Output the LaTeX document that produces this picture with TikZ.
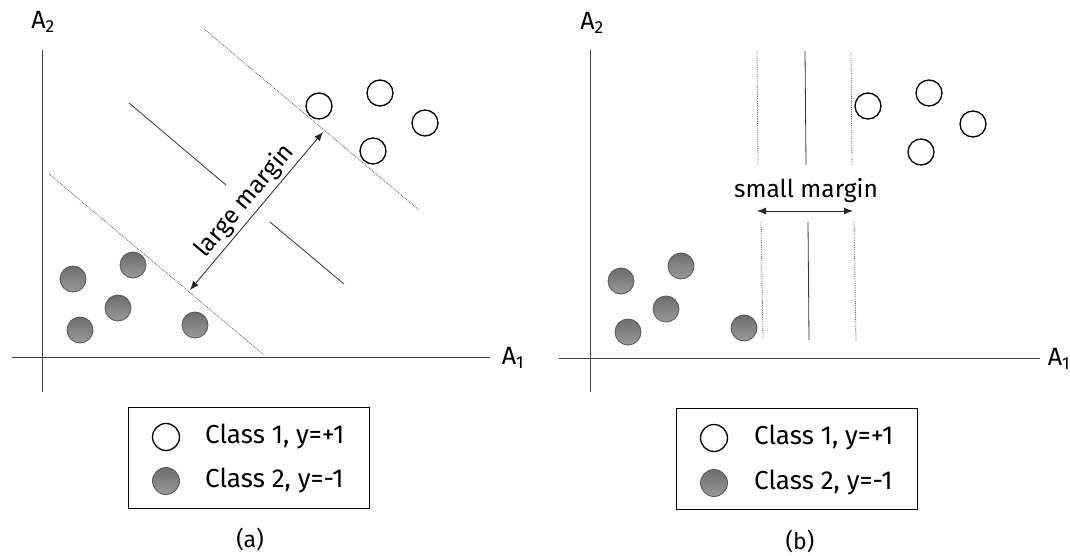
\documentclass[tikz,border=0pt]{standalone}
\usepackage{fontspec}
\setmainfont{Fira Sans}
\usetikzlibrary{arrows.meta}
\definecolor{axisgray}{HTML}{404040}
\definecolor{ballfill}{HTML}{808080}
\definecolor{balledge}{HTML}{555555}
\begin{document}
\begin{tikzpicture}[x=1pt,y=-1pt,
  axis/.style={draw=axisgray,line width=0.9pt},
  marginline/.style={draw=black!65,line width=0.8pt,densely dotted},
  hyperline/.style={draw=black!80,line width=0.8pt},
  posball/.style={circle,draw=black,line width=1.3pt,fill=white,minimum size=26pt,inner sep=0pt},
  negball/.style={circle,draw=balledge,line width=0.8pt,shading=axis,top color=ballfill!85!black,bottom color=ballfill!80!white,minimum size=26pt,inner sep=0pt},
  keyball/.style={minimum size=27pt},
  lbl/.style={font=\fontsize{24.5}{28}\selectfont,inner sep=1pt},
  keytext/.style={font=\fontsize{26}{30}\selectfont,inner sep=1pt,anchor=west},
  subcaption/.style={font=\fontsize{23}{26}\selectfont,inner sep=1pt},
  axlbl/.style={font=\fontsize{25}{28}\selectfont,inner sep=0pt},
  legendbox/.style={draw=black,line width=1pt,fill=white},
  dimarrow/.style={draw=black!85,line width=0.8pt,{Latex[length=9pt,width=7pt]}-{Latex[length=9pt,width=7pt]}}
]
\useasboundingbox (0,0) rectangle (1070,556);

% ---------------- panel (a): wide margin ----------------
\coordinate (ay0) at (42,50);  \coordinate (ay1) at (42,392);
\coordinate (ax0) at (12,357); \coordinate (ax1) at (490,357);
\draw[axis] (ay0) -- (ay1);
\draw[axis] (ax0) -- (ax1);
\node[axlbl] (aA2) at (43,22) {A\textsubscript{2}};
\node[axlbl] (aA1) at (513,358) {A\textsubscript{1}};

% margin boundaries and the separating line (with a gap for the label)
\coordinate (au0) at (204,29);  \coordinate (au1) at (419,210);
\coordinate (al0) at (49,174);  \coordinate (al1) at (264,355);
\draw[marginline] (au0) -- (au1);
\draw[marginline] (al0) -- (al1);
\coordinate (ah0) at (129,103); \coordinate (ah1) at (226,185);
\coordinate (ah2) at (270,222); \coordinate (ah3) at (344,284);
\draw[hyperline] (ah0) -- (ah1);
\draw[hyperline] (ah2) -- (ah3);

\node[posball] (ap1) at (319,106) {};
\node[posball] (ap2) at (380,93) {};
\node[posball] (ap3) at (425,123) {};
\node[posball] (ap4) at (373,151) {};
\node[negball] (an1) at (73,279) {};
\node[negball] (an2) at (133,265) {};
\node[negball] (an3) at (118,308) {};
\node[negball] (an4) at (80,330) {};
\node[negball] (an5) at (195,325) {};

\coordinate (am0) at (190,290);
\coordinate (am1) at (323,132);
\draw[dimarrow] (am0) -- node[lbl,midway,sloped,above=2pt] (amlabel) {large margin} (am1);

% legend (a)
\node[legendbox,minimum width=241pt,minimum height=101pt] (akey) at (249,458) {};
\node[posball,keyball] (akp) at (166,437) {};
\node[negball,keyball] (akn) at (166,481) {};
\node[keytext] (akpt) at (204,437) {Class 1, y=+1};
\node[keytext] (aknt) at (204,481) {Class 2, y=-1};
\node[subcaption] (acap) at (250,539) {(a)};

% ---------------- panel (b): narrow margin ----------------
\coordinate (by0) at (590,50);  \coordinate (by1) at (590,392);
\coordinate (bx0) at (559,358); \coordinate (bx1) at (1040,358);
\draw[axis] (by0) -- (by1);
\draw[axis] (bx0) -- (bx1);
\node[axlbl] (bA2) at (592,23) {A\textsubscript{2}};
\node[axlbl] (bA1) at (1059,359) {A\textsubscript{1}};

% vertical boundaries, interrupted around the label
\coordinate (bl0) at (757,51);  \coordinate (bl1) at (758,165);
\coordinate (bl2) at (761,222); \coordinate (bl3) at (763,339);
\coordinate (bc0) at (805,51);  \coordinate (bc1) at (806,165);
\coordinate (bc2) at (808,222); \coordinate (bc3) at (809,340);
\coordinate (br0) at (851,53);  \coordinate (br1) at (852,165);
\coordinate (br2) at (854,222); \coordinate (br3) at (856,341);
\draw[marginline] (bl0) -- (bl1);
\draw[marginline] (bl2) -- (bl3);
\draw[hyperline] (bc0) -- (bc1);
\draw[hyperline] (bc2) -- (bc3);
\draw[marginline] (br0) -- (br1);
\draw[marginline] (br2) -- (br3);

\node[posball] (bp1) at (868,106) {};
\node[posball] (bp2) at (929,93) {};
\node[posball] (bp3) at (973,124) {};
\node[posball] (bp4) at (921,152) {};
\node[negball] (bn1) at (621,281) {};
\node[negball] (bn2) at (681,266) {};
\node[negball] (bn3) at (666,309) {};
\node[negball] (bn4) at (628,332) {};
\node[negball] (bn5) at (744,328) {};

\coordinate (bm0) at (757,211);
\coordinate (bm1) at (853,211);
\draw[dimarrow] (bm0) -- (bm1);
\node[lbl] (bmlabel) at (806,191) {small margin};

% legend (b)
\node[legendbox,minimum width=241pt,minimum height=101pt] (bkey) at (797,459) {};
\node[posball,keyball] (bkp) at (714,438) {};
\node[negball,keyball] (bkn) at (714,483) {};
\node[keytext] (bkpt) at (753,438) {Class 1, y=+1};
\node[keytext] (bknt) at (753,483) {Class 2, y=-1};
\node[subcaption] (bcap) at (800,541) {(b)};
\end{tikzpicture}
\end{document}
